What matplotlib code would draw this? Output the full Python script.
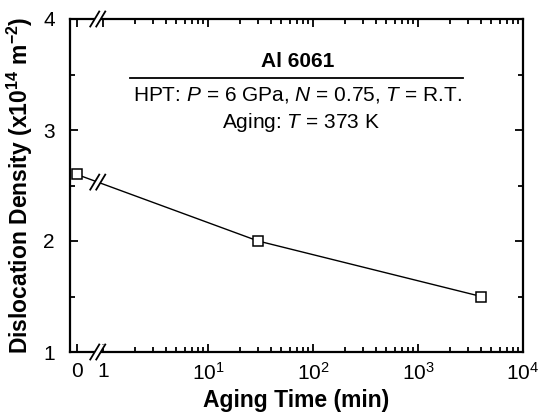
import numpy as np
import matplotlib
matplotlib.use("Agg")
import matplotlib.pyplot as plt
from matplotlib.ticker import FixedLocator, FixedFormatter, MultipleLocator

plt.rcParams['font.family'] = ['Liberation Sans', 'DejaVu Sans']
plt.rcParams['mathtext.fontset'] = 'custom'
plt.rcParams['mathtext.rm'] = 'Liberation Sans'
plt.rcParams['mathtext.it'] = 'Liberation Sans:italic'
plt.rcParams['mathtext.bf'] = 'Liberation Sans:bold'

# data
aging_time = [0, 30, 4000]          # min
dislocation = [2.6, 2.0, 1.5]       # x10^14 m^-2
x_major = [0, 1, 10, 100, 1000, 10000]
x_labels = ['0', '1', r'$10^1$', r'$10^2$', r'$10^3$', r'$10^4$']
y_major = [1, 2, 3, 4]
BREAK_X = 0.8

# broken axis: linear piece for 0..1, log above 1
K = 0.25
def fwd(x):
    x = np.asarray(x, dtype=float)
    return np.where(x >= 1, np.log10(np.clip(x, 1, None)), (x - 1) * K)

def inv(u):
    u = np.asarray(u, dtype=float)
    return np.where(u >= 0, 10 ** np.clip(u, None, 20), 1 + u / K)

W, H = 539, 418
fig = plt.figure(figsize=(W / 100, H / 100), dpi=100)
ax_l, ax_b, ax_w, ax_h = 70, 66, 453, 333
ax = fig.add_axes([ax_l / W, ax_b / H, ax_w / W, ax_h / H])
ax.set_xscale('function', functions=(fwd, inv))
x_lo = 1 + (-33 / 105) / K
ax.set_xlim(x_lo, 1e4)
ax.set_ylim(1, 4)

ax.plot(aging_time, dislocation, color='black', lw=1.0, marker='s', ms=7,
        mfc='white', mec='black', mew=1.1, zorder=3, clip_on=False)

ax.xaxis.set_major_locator(FixedLocator(x_major))
ax.xaxis.set_major_formatter(FixedFormatter(x_labels))
minors = [m * 10 ** d for d in range(4) for m in range(2, 10)]
ax.xaxis.set_minor_locator(FixedLocator(minors))
ax.yaxis.set_major_locator(FixedLocator(y_major))
ax.yaxis.set_minor_locator(MultipleLocator(0.5))
ax.tick_params(which='both', direction='in', top=True, right=True, width=1.3,
               labelsize=15)
ax.tick_params(which='major', length=6)
ax.tick_params(which='minor', length=3.5)
ax.tick_params(axis='x', pad=7)
ax.tick_params(axis='y', pad=11)
for s in ax.spines.values():
    s.set_linewidth(1.6)

ax.set_xlabel('Aging Time (min)', fontsize=16.5, fontweight='bold', labelpad=4)
ax.set_ylabel(r'Dislocation Density (x10$^{\mathbf{14}}$ m$^{\mathbf{-2}}$)',
              fontsize=16.5, fontweight='bold', labelpad=6)

# break marks, placed in axes fraction
u_lo, u_hi = fwd(x_lo), fwd(1e4)
def to_axes(x, y):
    return (fwd(x) - u_lo) / (u_hi - u_lo), (y - 1) / 3.0

def draw_break(fx, fy, dx=4.5, dy=7.5, gap=6):
    px, py = fx * ax_w, fy * ax_h
    poly_x = [px - gap / 2 - dx, px - gap / 2 + dx, px + gap / 2 + dx, px + gap / 2 - dx]
    poly_y = [py - dy, py + dy, py + dy, py - dy]
    ax.fill(np.array(poly_x) / ax_w, np.array(poly_y) / ax_h, color='white',
            transform=ax.transAxes, clip_on=False, zorder=10, lw=0)
    for off in (-gap / 2, gap / 2):
        ax.plot([(px + off - dx) / ax_w, (px + off + dx) / ax_w],
                [(py - dy) / ax_h, (py + dy) / ax_h], color='black', lw=1.3,
                transform=ax.transAxes, clip_on=False, zorder=11)

bx, _ = to_axes(BREAK_X, 1)
draw_break(bx, 0.0)
draw_break(bx, 1.0)
p0 = np.array(to_axes(aging_time[0], dislocation[0]))
p1 = np.array(to_axes(aging_time[1], dislocation[1]))
t = (bx - p0[0]) / (p1[0] - p0[0])
draw_break(bx, p0[1] + t * (p1[1] - p0[1]))

# annotation
ax.text(0.502, 0.872, 'Al 6061', transform=ax.transAxes, ha='center', va='center',
        fontsize=15, fontweight='bold')
ax.plot([0.132, 0.868], [0.823, 0.823], color='black', lw=1.3, transform=ax.transAxes)
ax.text(0.502, 0.772, r'HPT: $P$ = 6 GPa, $N$ = 0.75, $T$ = R.T.', transform=ax.transAxes,
        ha='center', va='center', fontsize=15)
ax.text(0.51, 0.69, r'Aging: $T$ = 373 K', transform=ax.transAxes,
        ha='center', va='center', fontsize=15)

fig.savefig('out.png', dpi=100)
